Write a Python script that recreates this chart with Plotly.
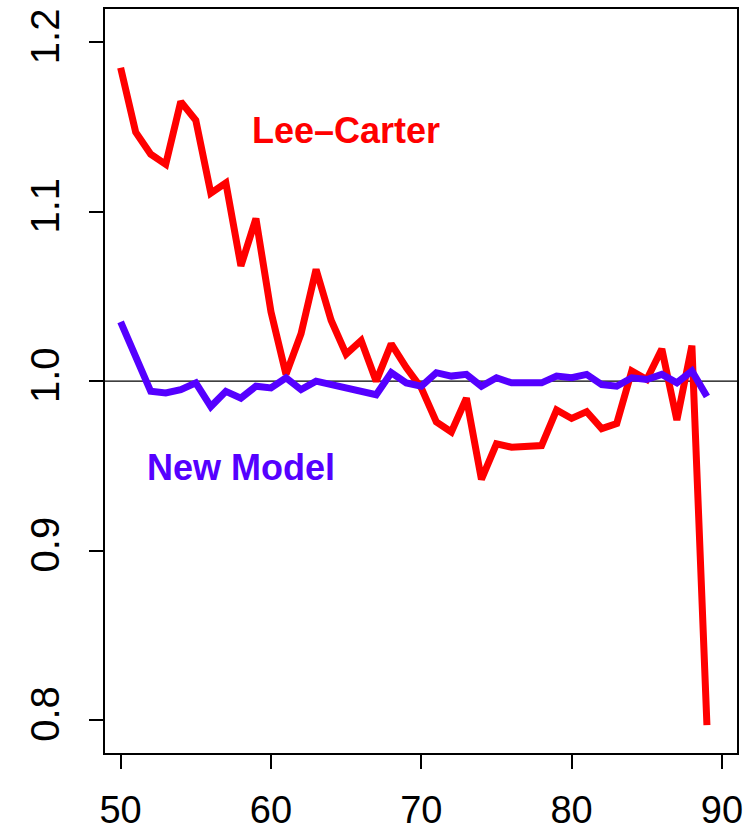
import plotly.graph_objects as go

# Age at which the ratio is evaluated
ages = list(range(50, 90))

# Ratio of fitted to observed, Lee-Carter model
lee_carter = [
    1.185, 1.147, 1.134, 1.128, 1.165, 1.154, 1.111, 1.117, 1.068, 1.096,
    1.041, 1.004, 1.028, 1.066, 1.036, 1.016, 1.024, 1.000, 1.022, 1.008,
    0.996, 0.976, 0.970, 0.990, 0.942, 0.963, 0.961, 0.961, 0.962, 0.983,
    0.978, 0.982, 0.972, 0.975, 1.006, 1.001, 1.019, 0.977, 1.021, 0.797,
]

# Ratio of fitted to observed, new model
new_model = [
    1.035, 1.015, 0.994, 0.993, 0.995, 0.999, 0.985, 0.994, 0.990, 0.997,
    0.996, 1.002, 0.995, 1.000, 0.998, 0.995, 0.994, 0.992, 1.005, 0.999,
    0.997, 1.005, 1.003, 1.004, 0.997, 1.002, 0.999, 0.999, 0.999, 1.003,
    1.002, 1.004, 0.998, 0.997, 1.002, 1.001, 1.004, 0.999, 1.006, 0.991,
]

x_ticks = [50, 60, 70, 80, 90]
y_ticks = [0.8, 0.9, 1.0, 1.1, 1.2]

RED = "#FF0000"
BLUE = "#5500FF"
FONT = "Liberation Sans, Arial, Helvetica, sans-serif"

fig = go.Figure()

fig.add_trace(go.Scatter(
    x=ages, y=lee_carter, mode="lines",
    line=dict(color=RED, width=7), showlegend=False,
))
fig.add_trace(go.Scatter(
    x=ages, y=new_model, mode="lines",
    line=dict(color=BLUE, width=7), showlegend=False,
))

# Reference line at ratio 1
fig.add_shape(
    type="line", xref="paper", yref="y", x0=0, x1=1, y0=1.0, y1=1.0,
    line=dict(color="black", width=1.2), layer="below",
)

fig.add_annotation(
    x=65, y=1.148, text="<b>Lee\u2013Carter</b>", showarrow=False,
    font=dict(family=FONT, size=36, color=RED),
)
fig.add_annotation(
    x=58, y=0.949, text="<b>New Model</b>", showarrow=False,
    font=dict(family=FONT, size=36, color=BLUE),
)

axis_common = dict(
    showgrid=False, zeroline=False, automargin=False,
    showline=True, mirror=True, linecolor="black", linewidth=1.8,
    ticks="outside", ticklen=14, tickwidth=1.8, tickcolor="black",
)

fig.update_xaxes(
    range=[48.96, 91.0], tickvals=x_ticks,
    ticktext=[str(v) for v in x_ticks], ticklabelstandoff=8,
    tickfont=dict(family=FONT, size=38, color="black"),
    **axis_common,
)
fig.update_yaxes(
    range=[0.7805, 1.2197], tickvals=y_ticks,
    ticktext=[f"{v:.1f}" for v in y_ticks], tickangle=-90,
    ticklabelstandoff=14,
    tickfont=dict(family=FONT, size=40, color="black"),
    **axis_common,
)

fig.update_layout(
    width=749, height=839,
    margin=dict(l=105, r=12, t=9, b=86),
    plot_bgcolor="white", paper_bgcolor="white",
    font=dict(family=FONT),
)

fig.write_html("out.html")
